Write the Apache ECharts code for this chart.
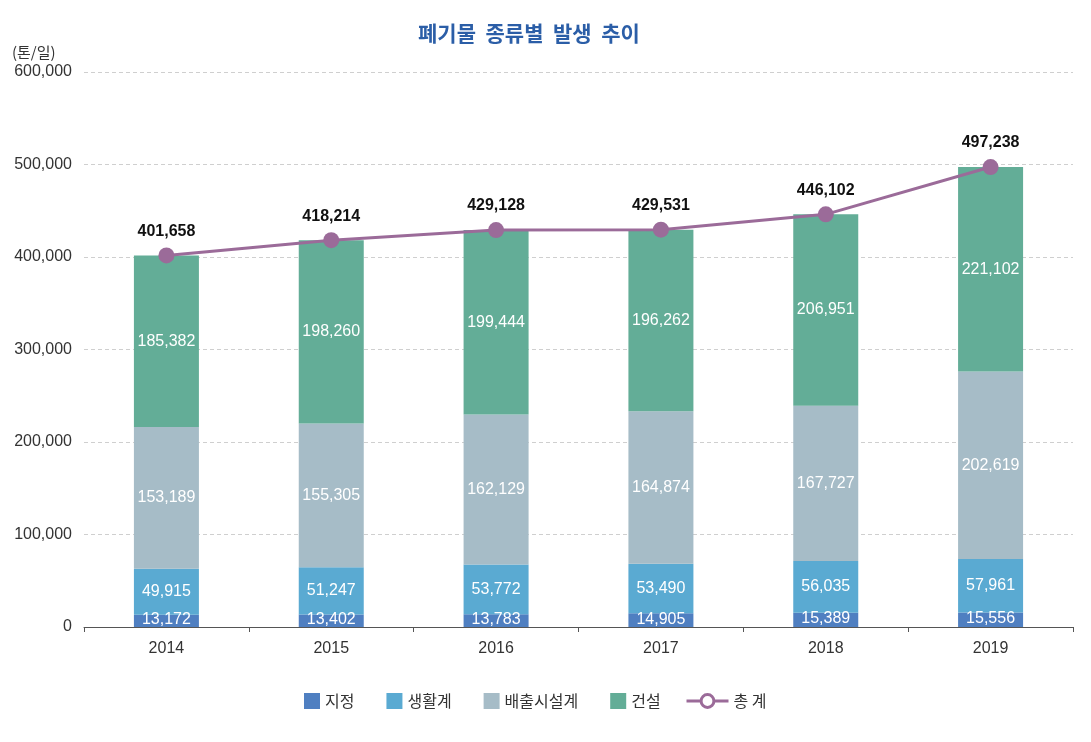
<!DOCTYPE html>
<html><head><meta charset="utf-8">
<script src="https://cdn.jsdelivr.net/npm/echarts@6/dist/echarts.min.js"></script>
<style>html,body{margin:0;padding:0;background:#fff}#c{width:1091px;height:742px}</style>
</head><body><div id="c"></div>
<script>
const years = ['2014','2015','2016','2017','2018','2019'];
const jijeong = [13172, 13402, 13783, 14905, 15389, 15556];
const saenghwal = [49915, 51247, 53772, 53490, 56035, 57961];
const baechul = [153189, 155305, 162129, 164874, 167727, 202619];
const geonseol = [185382, 198260, 199444, 196262, 206951, 221102];
const total = [401658, 418214, 429128, 429531, 446102, 497238];

const font = '"Liberation Sans", "Noto Sans CJK KR", sans-serif';
const kfont = '"Noto Sans CJK KR", sans-serif';
const chart = echarts.init(document.getElementById('c'));
const fmt = v => v.toLocaleString('en-US');
function barSeries(name, data, color) {
  return {
    name, type: 'bar', stack: 'a', data, barWidth: 65,
    itemStyle: { color },
    label: { show: true, position: 'inside', color: '#fff', fontSize: 16, fontFamily: font,
      formatter: p => fmt(p.value) }
  };
}
const s1 = barSeries('지정', jijeong, '#4f7fc1');
s1.label.offset = [0, -1];
chart.setOption({
  animation: false,
  textStyle: { fontFamily: font },
  title: { text: '폐기물  종류별  발생  추이', left: 413, top: 18,
    textStyle: { color: '#2b5ea7', fontSize: 21, fontWeight: 'bold', fontFamily: kfont } },
  grid: { left: 84, right: 18, top: 72, bottom: 115 },
  legend: [{
    bottom: 28, left: 299, itemGap: 32, itemWidth: 16, itemHeight: 16,
    textStyle: { fontSize: 16, color: '#333', fontFamily: kfont },
    data: [
      { name: '지정', icon: 'rect' }, { name: '생활계', icon: 'rect' },
      { name: '배출시설계', icon: 'rect' }, { name: '건설', icon: 'rect' }
    ]
  }, {
    bottom: 28, left: 680, itemWidth: 42, itemHeight: 16,
    textStyle: { fontSize: 16, color: '#333', fontFamily: kfont },
    data: [{ name: '총 계', itemStyle: { color: '#fff', borderColor: '#9b6b99', borderWidth: 3 }, lineStyle: { color: '#9b6b99', width: 3 } }]
  }],
  xAxis: {
    type: 'category', data: years,
    axisLine: { lineStyle: { color: '#555' } },
    axisTick: { show: true, alignWithLabel: false, lineStyle: { color: '#555' } },
    axisLabel: { color: '#333', fontSize: 16, margin: 14 }
  },
  yAxis: {
    type: 'value', min: 0, max: 600000, interval: 100000,
    name: '(톤/일)', nameLocation: 'end', nameGap: 12,
    nameTextStyle: { color: '#333', fontSize: 15, align: 'left', padding: [0, 0, 0, -72], fontFamily: kfont },
    axisLine: { show: false }, axisTick: { show: false },
    axisLabel: { color: '#333', fontSize: 16, margin: 12, formatter: v => fmt(v) },
    splitLine: { lineStyle: { color: '#cfcfcf', type: [4, 3] } }
  },
  series: [
    s1,
    barSeries('생활계', saenghwal, '#5aaad2'),
    barSeries('배출시설계', baechul, '#a6bcc7'),
    barSeries('건설', geonseol, '#63ad97'),
    {
      name: '총 계', type: 'line', data: total, symbol: 'circle', symbolSize: 16,
      lineStyle: { color: '#9b6b99', width: 3 }, itemStyle: { color: '#9b6b99' },
      label: { show: true, position: 'top', distance: 8, color: '#111', fontSize: 16, fontWeight: 'bold',
        formatter: p => fmt(p.value) }
    }
  ]
});
</script></body></html>
